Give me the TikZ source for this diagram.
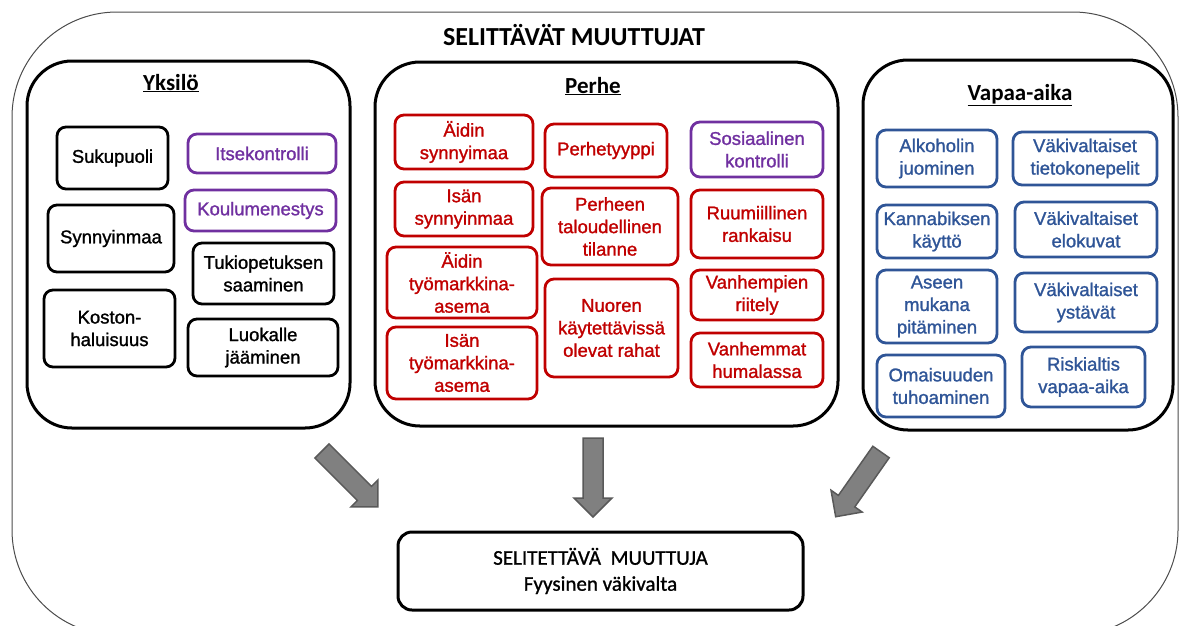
\documentclass[tikz,border=0pt]{standalone}
\usepackage{fontspec}
\setmainfont{Liberation Sans}
\newfontfamily\calibri{Carlito}
\newfontfamily\calibrivahva[FakeBold=1]{Carlito}
\newfontfamily\laatikko[FakeBold=1.3]{Liberation Sans}
\usepackage{xcolor}
\usetikzlibrary{positioning}
\definecolor{punainen}{RGB}{192,0,0}
\definecolor{violetti}{RGB}{112,48,160}
\definecolor{sininen}{RGB}{47,85,151}

\begin{document}
\begin{tikzpicture}[x=1pt,y=-1pt,
  grp/.style={draw,line width=3pt,rounded corners=45pt},
  muuttuja/.style={draw,line width=2.8pt,rounded corners=9pt,align=center,inner sep=0pt,
    font=\laatikko\fontsize{18.5}{22.5}\selectfont},
  musta/.style={muuttuja,draw=black,text=black},
  puna/.style={muuttuja,draw=punainen,text=punainen},
  viol/.style={muuttuja,draw=violetti,text=violetti},
  sini/.style={muuttuja,draw=sininen,text=sininen},
  otsikko/.style={anchor=base,font=\calibri\bfseries\fontsize{23}{26}\selectfont},
  nuoli/.style={fill=gray,draw=black!65,line width=1.5pt,line join=miter}]
  \useasboundingbox (0,0) rectangle (1182,625);
  \clip (0,0) rectangle (1182,625);

  % ulkokehys
  \node[draw=black!70,line width=1pt,rounded corners=105pt,minimum width=1166,minimum height=623] (kehys) at (595,323.5) {};
  \node[anchor=base,font=\calibri\bfseries\fontsize{26}{30}\selectfont] (paaotsikko) at (574,45) {SELITTÄVÄT MUUTTUJAT};

  % Yksilo
  \node[grp,minimum width=323,minimum height=367] (yksilo) at (188.5,244.5) {};
  \node[otsikko] (yksiloots) at (171,90) {\underline{Yksilö}};
  \node[musta,minimum width=111,minimum height=62] (sukupuoli) at (112.5,158) {Sukupuoli};
  \node[viol,minimum width=148,minimum height=39] (itsekontrolli) at (262,153.5) {Itsekontrolli};
  \node[viol,minimum width=151,minimum height=41] (koulu) at (260.5,210.5) {Koulumenestys};
  \node[musta,minimum width=126,minimum height=67] (synnyinmaa) at (111,238.5) {Synnyinmaa};
  \node[musta,minimum width=141,minimum height=61] (tukiopetus) at (263.5,273.5) {Tukiopetuksen\\saaminen};
  \node[musta,minimum width=131,minimum height=77] (kosto) at (109.5,328.5) {Koston-\\haluisuus};
  \node[musta,minimum width=150,minimum height=57] (luokalle) at (263,347.5) {Luokalle\\jääminen};

  % Perhe
  \node[grp,minimum width=463,minimum height=364] (perhe) at (606.5,244) {};
  \node[otsikko] (perheots) at (593,93) {\underline{Perhe}};
  \node[puna,minimum width=138,minimum height=54] (aitimaa) at (464,142) {Äidin\\synnyimaa};
  \node[puna,minimum width=138,minimum height=54] (isamaa) at (464,209) {Isän\\synnyinmaa};
  \node[puna,minimum width=150,minimum height=71] (aititm) at (462,282.5) {Äidin\\työmarkkina-\\asema};
  \node[puna,minimum width=150,minimum height=72] (isatm) at (462,363) {Isän\\työmarkkina-\\asema};
  \node[puna,minimum width=122,minimum height=53] (tyyppi) at (606,150.5) {Perhetyyppi};
  \node[puna,minimum width=136,minimum height=77] (talous) at (610,226.5) {Perheen\\taloudellinen\\tilanne};
  \node[puna,minimum width=133,minimum height=98] (rahat) at (611.5,328) {Nuoren\\käytettävissä\\olevat rahat};
  \node[viol,minimum width=132,minimum height=55] (sosiaalinen) at (757,149.5) {Sosiaalinen\\kontrolli};
  \node[puna,minimum width=132,minimum height=68] (rankaisu) at (757,224) {Ruumiillinen\\rankaisu};
  \node[puna,minimum width=132,minimum height=50] (riitely) at (757,295) {Vanhempien\\riitely};
  \node[puna,minimum width=132,minimum height=54] (humalassa) at (757,360) {Vanhemmat\\humalassa};

  % Vapaa-aika
  \node[grp,minimum width=310,minimum height=370] (vapaa) at (1018,245) {};
  \node[otsikko] (vapaaots) at (1020,100) {\underline{Vapaa-aika}};
  \node[sini,minimum width=120,minimum height=57] (alkoholi) at (937,158.5) {Alkoholin\\juominen};
  \node[sini,minimum width=144,minimum height=53] (pelit) at (1085,158.5) {Väkivaltaiset\\tietokonepelit};
  \node[sini,minimum width=120,minimum height=53] (kannabis) at (937,231.5) {Kannabiksen\\käyttö};
  \node[sini,minimum width=142,minimum height=55] (elokuvat) at (1086,229.5) {Väkivaltaiset\\elokuvat};
  \node[sini,minimum width=120,minimum height=73] (ase) at (937,306.5) {Aseen\\mukana\\pitäminen};
  \node[sini,minimum width=142,minimum height=59] (ystavat) at (1086,302.5) {Väkivaltaiset\\ystävät};
  \node[sini,minimum width=128,minimum height=62] (omaisuus) at (941,386) {Omaisuuden\\tuhoaminen};
  \node[sini,minimum width=123,minimum height=60] (riski) at (1083.5,377) {Riskialtis\\vapaa-aika};

  % selitettava muuttuja
  \node[draw,line width=3pt,rounded corners=14pt,minimum width=405,minimum height=78,align=center,
    font=\calibrivahva\fontsize{21}{26}\selectfont] (selitettava) at (600.5,571) {SELITETTÄVÄ\ \ MUUTTUJA\\Fyysinen väkivalta};

  % nuolet
  \foreach \x/\y/\kulma in {322/451/-45, 593/438/-90, 881/452/-125} {
    \begin{scope}[shift={(\x,\y)},rotate=\kulma]
      \draw[nuoli] (0,-10) -- (60,-10) -- (60,-19) -- (79,0) -- (60,19) -- (60,10) -- (0,10) -- cycle;
    \end{scope}
  }
\end{tikzpicture}
\end{document}
